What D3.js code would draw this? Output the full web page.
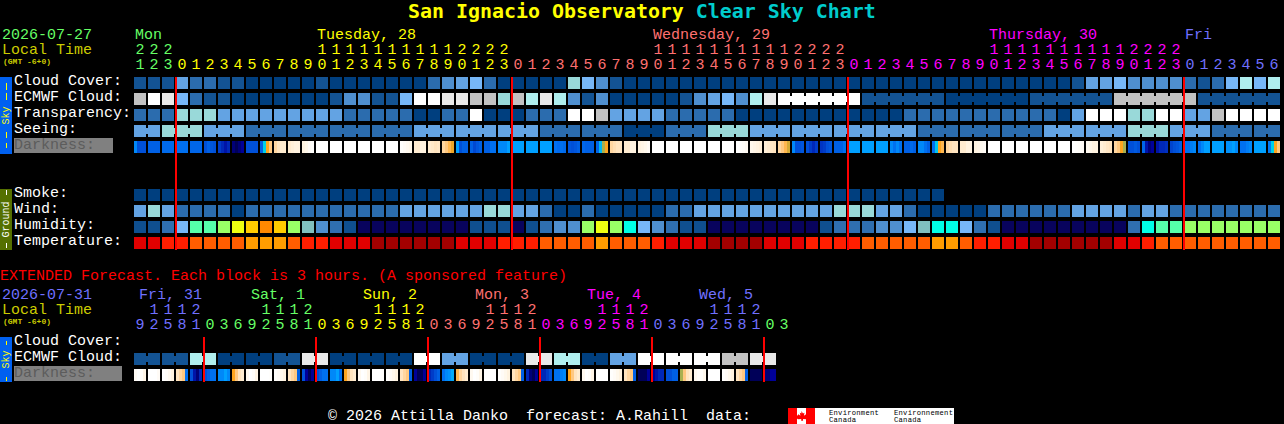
<!DOCTYPE html>
<html><head><meta charset="utf-8">
<script src="https://cdn.jsdelivr.net/npm/d3@7"></script>
<style>
html,body{margin:0;padding:0;background:#000;overflow:hidden}
svg{display:block}
text{font-family:"Liberation Mono",monospace;font-size:15px;white-space:pre}
.tick text{font-family:"Liberation Mono",monospace;font-size:15px}
</style></head><body><svg id="c" width="1284" height="424"></svg>
<script>
// ---- data ----
const siteName = "San Ignacio Observatory ";
const chartName = "Clear Sky Chart";
const footerText = "© 2026 Attilla Danko  forecast: A.Rahill  data:";
const extendedNote = "EXTENDED Forecast. Each block is 3 hours. (A sponsored feature)";
const mainDate = "2026-07-27";
const extDate = "2026-07-31";
const mainRowNames = ["Cloud Cover:","ECMWF Cloud:","Transparency:","Seeing:","Darkness:"];
const groundRowNames = ["Smoke:","Wind:","Humidity:","Temperature:"];
const extRowNames = ["Cloud Cover:","ECMWF Cloud:","Darkness:"];

const hours = [21,22,23].concat(
  d3.range(24), d3.range(24), d3.range(24), [0,1,2,3,4,5,6]);
const extHours = [9,12,15,18,21,
  0,3,6,9,12,15,18,21, 0,3,6,9,12,15,18,21, 0,3,6,9,12,15,18,21,
  0,3,6,9,12,15,18,21, 0,3,6,9,12,15,18,21, 0,3];

const mainDays = [
  {label:"Mon", col:0, color:"#66ff66"},
  {label:"Tuesday, 28", col:13, color:"#ffff00"},
  {label:"Wednesday, 29", col:37, color:"#ff7070"},
  {label:"Thursday, 30", col:61, color:"#ff00ff"},
  {label:"Fri", col:75, color:"#7070ff"}];
const mainDayStarts = [0,3,27,51,75];
const mainDayColors = ["#66ff66","#ffff00","#ff7070","#ff00ff","#7070ff"];
const extDays = ["Fri, 31","Sat, 1","Sun, 2","Mon, 3","Tue, 4","Wed, 5"];
const extDayCols = [0,8,16,24,32,40];
const extDayStarts = [0,5,13,21,29,37,45];
const extDayColors = ["#7070ff","#66ff66","#ffff00","#ff7070","#ff00ff","#7070ff","#66ff66"];
const midnightCols = [3,27,51,75];
const extMidnightCols = [5,13,21,29,37,45];

const cloudCover = [
 1,1,1,4,2,2,1,1,0,0, 0,0,0,1,0,0,0,0,0,0, 0,2,3,4,5,2,0,0,0,0,
 0,6,5,3,1,0,0,0,0,0, 0,0,0,0,0,0,0,0,0,0, 0,0,0,0,0,0,0,0,0,0,
 0,0,0,0,0,0,0,1,4,4, 5,3,3,3,3,2,1,2,5,7,5,7];
const ecmwfCloud = [
 9,10,8,5,2,1,1,0,0,0, 0,0,0,0,1,3,3,1,1,5, 10,10,8,8,9,9,6,9,7,8,
 7,3,1,3,0,0,0,0,0,1, 3,4,5,3,7,8,10,10,10,10, 10,10,1,1,1,1,1,1,0,0,
 0,0,0,0,1,1,1,1,1,1, 9,9,9,9,9,9,1,1,1,1,1,1];
const transparency = [
 2,2,2,6,6,6,4,4,4,4, 4,4,4,4,4,2,2,2,2,2, 0,0,2,2,10,0,0,0,2,2,
 2,10,10,9,4,4,4,4,2,2, 2,2,2,0,0,0,0,0,0,0, 0,0,0,0,0,2,2,2,2,2,
 2,2,2,2,2,2,0,4,10,10, 10,6,6,10,10,4,4,9,10,10,10,10];
const seeing = [
 4,4, 6,6,6, 4,4,4, 2,2,2, 2,2,2, 2,2,2, 2,2,2, 4,4,4, 4,4,4, 4,4,4,
 2,2,2, 2,2,2, 0,0,0, 2,2,2, 6,6,6, 4,4,4, 4,4,4, 4,4,4, 4,4,4,
 2,2,2, 2,2,2, 2,2,2, 4,4,4, 4,4,4, 6,6,6, 4,4,4, 2,2,2, 2,2];
const smoke = [
 0,0,0,0,0,0,0,0,0,0, 0,0,0,0,0,0,0,0,0,0, 0,0,0,0,0,0,0,0,0,0,
 0,0,0,0,0,0,0,0,0,0, 0,0,0,0,0,0,0,0,0,0, 0,0,0,0,0,0,0,0];
const wind = [
 4,6,4,2,2,2,2,0,2,2, 2,2,2,2,2,2,2,2,2,4, 4,4,4,4,4,6,6,4,4,2,
 0,0,2,0,0,0,0,0,2,2, 4,4,4,4,4,4,4,4,4,4, 6,6,6,4,4,2,0,0,0,0,
 0,2,2,2,2,2,2,4,4,4, 4,2,4,4,2,2,2,2,2,2,2,2];
const humidity = [
 1,1,2,4,7,7,8,9,10,11, 10,8,5,3,2,1,0,0,0,0, 0,0,0,0,1,1,1,0,1,2,
 3,3,8,9,8,6,4,3,2,1, 1,0,0,0,0,0,0,0,0,1, 2,2,2,3,3,4,5,6,6,4,
 2,1,0,0,0,0,0,0,0,0, 0,2,6,7,7,8,8,8,8,8,8,8];
const temperature = [
 1,1,2,2,3,3,3,3,4,4, 4,3,2,2,1,1,1,0,0,0, 0,0,0,1,1,1,2,2,2,3,
 3,3,3,4,3,3,3,2,1,1, 1,0,0,0,0,1,1,1,2,2, 2,2,3,3,3,3,3,4,4,3,
 2,2,1,1,0,0,0,0,0,0, 1,1,2,3,3,3,3,3,3,3,3,3];
const extEcmwf = [
 1,1,1,1,7,7,0,0,0,0,1,1,8,8,0,0,0,0,0,0,10,10,4,4,
 0,0,0,0,8,8,7,7,0,0,4,4,10,10,10,10,10,10,9,9,8,8];
// darkness: four samples across each block (0 = daylight ... 12 = full dark)
const darkness = [
 [7.5,9,9,9],[8.5,8.5,8.5,8.5],[8.2,8.2,8.2,8.2],[8,8,8,8],[8.3,8.3,8.3,8.3],
 [9,8.5,8.8,9],[9.5,10,10.5,10],[11.5,12,11.5,11],[9,9,9,9],[8.5,6,4,3],
 [2.5,2,1.5,1.5],[1.5,1.2,1,1],[1,.7,.3,.1],[0,0,0,0],[0,0,0,0],
 [0,0,0,0],[0,0,0,0],[0,0,0,0],[0,0,0,0],[.1,.3,.5,.7],
 [1.5,1.5,1,1],[1.5,1.7,2,1.8],[2.5,3,3.5,4.2],[7,9,8.5,8.5],[8.5,9.2,8.8,8.5],
 [8.5,8.5,8,8],[7.5,7.5,7.5,7],[7,7,7,7],[7,7,7,7],[7,7,7,7],
 [8,8.2,8,8.2],[8.8,9,8.8,8.5],[8.3,8.5,8.5,8.5],[8.3,6.5,5,4],[2.5,2.2,2,2],
 [1.5,1.5,1,1],[1,.8,.6,.3],[0,0,0,0],[0,0,0,0],[0,0,0,0],
 [0,0,0,0],[0,0,0,0],[0,0,0,0],[0,.1,.2,.4],[.6,.8,1,1.2],
 [1.2,1.5,1.8,2],[2.5,3,3.5,4.5],[7.5,9,9,8.8],[9,9.5,10,9.5],[9.7,9.5,9,8.8],
 [8.5,8.5,8.5,8],[7,7,7,7],[7,7,7,7],[7,7,7,7],[7.5,8,7.5,8],
 [8.5,8.5,8.2,8.5],[7.5,7.5,8,8.5],[8,6.2,4,3.5],[2.5,2.2,2,2],[1.5,1.5,1,1],
 [1,.8,.5,.3],[0,0,0,0],[0,0,0,0],[0,0,0,0],[0,0,0,0],
 [0,0,0,0],[0,0,0,0],[0,.1,.2,.3],[.5,.7,1,1],[1.2,1.5,1.8,2],
 [2.5,3,4,5],[9,9,8.7,9],[8.3,10.5,11.5,11],[10.5,10,10,9.8],[9.3,9,8.8,8.5],
 [8,8,7.7,7.5],[8,7.5,7,7],[7,7,7,7],[7.3,7.3,7,7.5],[8,8,7.7,7.5],
 [7,7,7,7],[7.8,6,4,3]];
const extDarkness = [
 [.3,0,.2,.8],[0,0,0,.3],[0,.2,.5,1],[2,2.5,3,8],[9,10.5,11.5,10],
 [9,8.5,8,8],[7.5,7.5,7,7.5],[4,3,2,1.5],[.5,0,.2,.8],[0,0,0,.1],
 [.1,.3,.6,1],[2,2.5,3,8.5],[9,11,12,11],[9,8.5,8,8],[7.5,7.5,7,8],
 [4,3,2,1.5],[.5,0,.2,.8],[0,0,0,.1],[.1,.3,.6,1],[2,2.5,3,8.5],
 [11,12,12,11],[10,9.5,9,8.5],[8,7.5,7.3,6.8],[3.5,2.5,2,1.5],[.5,0,.2,.8],
 [0,0,0,0],[.1,.3,.6,1],[2,2.5,3,8.5],[10,11.5,12,11],[10,10,9.5,9],
 [8,8,7.7,7.5],[4,3,2,1.5],[.5,0,.2,.8],[0,0,0,0],[.1,.3,.6,1],
 [2,2.5,3,8.5],[12,12,12,11],[11,10.5,10,10],[9,9,8.5,8.5],[5,3,2,1.5],
 [.5,.2,.2,.6],[0,0,0,0],[.1,.3,.6,1],[2,2.5,3,8.5],[12,12,12,12],[11.5,11.5,11,11]];

// ---- palettes ----
const skyColors = ["#003f7f","#135393","#2b6cae","#4f8fcf","#63a3e3","#77b7f7","#99d9d9","#afeeee","#e9e9e9","#c2c2c2","#ffffff"];
const humidityColors = ["#08035d","#0f4f8f","#2f6fb0","#4f8fcf","#77b7f7","#80bfbf","#00ffe6","#55ffaa","#99ff66","#eeff11","#ffcc00","#ff8800"];
const tempColors = ["#a30000","#e10000","#ff1e00","#ff5d00","#ff9d00"];
const skyScale = d3.scaleOrdinal(d3.range(skyColors.length), skyColors);
const humScale = d3.scaleOrdinal(d3.range(humidityColors.length), humidityColors);
const tempScale = d3.scaleOrdinal(d3.range(tempColors.length), tempColors);
const darkScale = d3.scaleLinear()
  .domain([0,1,2,3,4,5,5.5,6,7,8,9,10,11,12])
  .range(["#ffffff","#fff3e0","#ffe4bf","#ffc880","#ffa51e","#a8b050","#40d0a0","#00d0e8","#00a0ff","#0070f0","#0050d8","#0028b8","#000098","#000058"]);

// ---- scales ----
const CELL = 14, GAP = 2, LEFT = 134;
const x = d3.scaleBand().domain(d3.range(hours.length))
  .range([LEFT, LEFT + hours.length*CELL - GAP]).paddingInner(GAP/CELL).paddingOuter(0);
const xe = d3.scaleBand().domain(d3.range(extHours.length))
  .range([LEFT, LEFT + extHours.length*CELL - GAP]).paddingInner(GAP/CELL).paddingOuter(0);
const band = (names, top) => d3.scaleBand().domain(names)
  .range([top, top + names.length*16 - 4]).paddingInner(.25).paddingOuter(0);
const ySky = band(mainRowNames, 77), yGround = band(groundRowNames, 189), yExt = band(extRowNames, 337);

const svg = d3.select("#c");
svg.append("rect").attr("width",1284).attr("height",424).attr("fill","#000");
const cells = svg.append("g").attr("shape-rendering","crispEdges");

function row(xs, y0, values, color, blockStart, blockSize){
  const g = cells.append("g");
  g.selectAll("rect.cell").data(values).join("rect").attr("class","cell")
    .attr("x",(d,i)=>xs(i)).attr("y",y0).attr("width",xs.bandwidth()).attr("height",12)
    .attr("fill",d=>color(d));
  if(blockSize){
    const step = xs.step();
    const bridges = d3.range(values.length-1).filter(i =>
      i >= blockStart && (i+1-blockStart) % blockSize !== 0);
    g.selectAll("rect.join").data(bridges).join("rect").attr("class","join")
      .attr("x",i=>xs(i)+xs.bandwidth()).attr("y",y0+3)
      .attr("width",step-xs.bandwidth()).attr("height",6)
      .attr("fill",i=>color(values[i]));
  }
}
function darkRow(xs, y0, samples){
  const g = cells.append("g");
  const sw = xs.bandwidth()/4;
  samples.forEach((s,i)=>{
    g.selectAll(null).data(s).join("rect")
      .attr("x",(d,k)=>xs(i)+k*sw).attr("y",y0).attr("width",sw+.01).attr("height",12)
      .attr("fill",d=>darkScale(d));
  });
}
row(x, ySky("Cloud Cover:"), cloudCover, skyScale);
row(x, ySky("ECMWF Cloud:"), ecmwfCloud, skyScale, 46, 6);
row(x, ySky("Transparency:"), transparency, skyScale);
row(x, ySky("Seeing:"), seeing, skyScale, -1, 3);
darkRow(x, ySky("Darkness:"), darkness);
row(x, yGround("Smoke:"), smoke, skyScale);
row(x, yGround("Wind:"), wind, skyScale);
row(x, yGround("Humidity:"), humidity, humScale);
row(x, yGround("Temperature:"), temperature, tempScale);
row(xe, yExt("ECMWF Cloud:"), extEcmwf, skyScale, 0, 2);
darkRow(xe, yExt("Darkness:"), extDarkness);

// red midnight lines
const lines = svg.append("g").attr("shape-rendering","crispEdges");
lines.selectAll("rect.m").data(midnightCols).join("rect").attr("class","m")
  .attr("x",c=>x(c)-1).attr("y",77).attr("width",2).attr("height",173).attr("fill","#ff0000");
lines.selectAll("rect.e").data(extMidnightCols).join("rect").attr("class","e")
  .attr("x",c=>xe(c)-1).attr("y",337).attr("width",2).attr("height",45).attr("fill","#ff0000");

// hour axes
function hourAxis(xs, hrs, starts, colors, tensY, unitsY){
  const colorOf = i => colors[d3.bisectRight(starts,i)-1] || colors[0];
  const units = svg.append("g").attr("transform",`translate(0,${unitsY})`)
    .call(d3.axisTop(xs).tickSize(0).tickPadding(0).tickFormat(i=>hrs[i]%10));
  const tens = svg.append("g").attr("transform",`translate(0,${tensY})`)
    .call(d3.axisTop(xs).tickSize(0).tickPadding(0)
      .tickValues(d3.range(hrs.length).filter(i=>hrs[i]>=10))
      .tickFormat(i=>Math.floor(hrs[i]/10)));
  [units,tens].forEach(a=>{
    a.select(".domain").remove();
    a.selectAll(".tick text").attr("y",0).attr("dy",0).attr("fill",i=>colorOf(i))
      .attr("font-family",null).attr("font-size",null);
    a.attr("font-family",null).attr("font-size",null);
  });
}
hourAxis(x, hours, mainDayStarts, mainDayColors, 54, 69);
hourAxis(xe, extHours, extDayStarts, extDayColors, 314, 329);

const txt = (s,xp,yp,fill,size,weight) => svg.append("text").attr("x",xp).attr("y",yp)
  .attr("fill",fill).style("font-size",(size||15)+"px").style("font-weight",weight||"normal").text(s);

// title
const title = svg.append("text").attr("x",408).attr("y",18)
  .style("font-family",'"DejaVu Sans Mono",monospace').style("font-size","19.93px").style("font-weight","bold");
title.append("tspan").attr("fill","#ffff00").text(siteName);
title.append("tspan").attr("fill","#00cccc").text(chartName);

// header
txt(mainDate,2,39,"#66ff66");
txt("Local Time",2,54,"#cccc00");
txt("(GMT -6+0)",3,64,"#cccc00",8,"bold");
mainDays.forEach(d=>txt(d.label,x(d.col)+1,39,d.color));

// row labels
const labelColor = "#ffffff";
const rowLabel = (name,y0) => txt(name,14,y0+8,labelColor);
svg.insert("rect","g").attr("x",14).attr("y",138).attr("width",99).attr("height",15).attr("fill","#808080");
svg.insert("rect","g").attr("x",14).attr("y",366).attr("width",108).attr("height",15).attr("fill","#808080");
mainRowNames.slice(0,4).forEach(n=>rowLabel(n,ySky(n)));
txt("Darkness:",14,ySky("Darkness:")+8,"#5c5c5c");
groundRowNames.forEach(n=>rowLabel(n,yGround(n)));

// side bars
function sideBar(y0,h,fill,label,labelFill,labelTop,labelBottom,dashes){
  svg.append("rect").attr("x",0).attr("y",y0).attr("width",12).attr("height",h).attr("fill",fill);
  const cy=(labelTop+labelBottom)/2;
  svg.append("text").attr("transform",`translate(9,${cy}) rotate(-90)`).attr("text-anchor","middle")
    .attr("fill",labelFill).style("font-size","10px").text(label);
  svg.append("g").attr("shape-rendering","crispEdges").selectAll("rect").data(dashes).join("rect")
    .attr("x",5.5).attr("y",d=>d[0]).attr("width",1).attr("height",d=>d[1]-d[0]).attr("fill",labelFill);
}
sideBar(77,77,"#0060f0","Sky","#ffff00",107,124,[[83,90],[93,100],[132,138],[143,148]]);
sideBar(189,61,"#557000","Ground","#ffffff",202,237,[[190,195],[243,248]]);
sideBar(337,45,"#0060f0","Sky","#ffff00",351,368,[[341,345],[377,381]]);

// extended section
txt(extendedNote,0,280,"#ff0000");
txt(extDate,2,299,"#7070ff");
txt("Local Time",2,314,"#cccc00");
txt("(GMT -6+0)",3,324,"#cccc00",8,"bold");
extDays.forEach((d,k)=>txt(d,xe(extDayCols[k])+5,299,extDayColors[k]));
txt("Cloud Cover:",14,yExt("Cloud Cover:")+8,labelColor);
txt("ECMWF Cloud:",14,yExt("ECMWF Cloud:")+8,labelColor);
txt("Darkness:",14,yExt("Darkness:")+8,"#5c5c5c");

// footer
txt(footerText,328,420,"#ffffff");
svg.append("rect").attr("x",788).attr("y",408).attr("width",166).attr("height",16).attr("fill","#ffffff");
svg.append("rect").attr("x",788).attr("y",408).attr("width",9).attr("height",16).attr("fill","#ff0000");
svg.append("rect").attr("x",806).attr("y",408).attr("width",9).attr("height",16).attr("fill","#ff0000");
svg.append("path").attr("d","M801.5 413l1.2 2 1.3-.6-.5 2.6 1.8-1.2 1 1.4 1-.2-.6 2-1.2 .8-2.7-.2 0 1.6h-1.6l.1-1.6-2.7 .2-1.2-.8-.6-2 1 .2 1-1.4 1.8 1.2-.5-2.6 1.3 .6z")
  .attr("transform","translate(801.5,411) scale(1.2) translate(-801.5,-413)").attr("fill","#ff0000");
const logoText = (s,xp,yp)=>txt(s,xp,yp,"#000",7.2).style("letter-spacing",".24px");
logoText("Environment",829,415.3);
logoText("Canada",829,421.8);
logoText("Environnement",894,415.3);
logoText("Canada",894,421.8);
</script></body></html>
